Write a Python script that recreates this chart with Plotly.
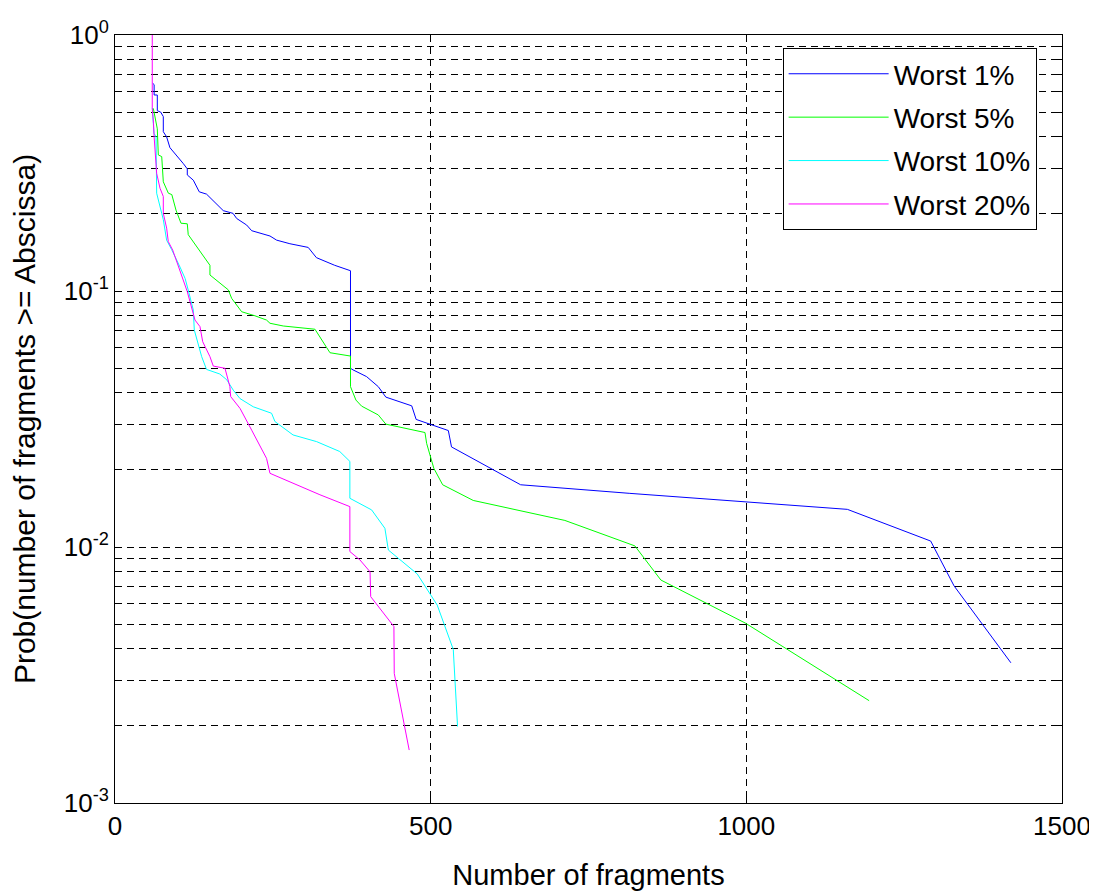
import plotly.graph_objects as go

# ---- data ----
w1_x = [59.7, 62, 62, 67, 67, 72.3, 76.5, 76.5, 81.8, 87, 108, 114.5, 114.5, 124, 133.5, 145, 171.5, 187, 192.7,
        208.5, 216.5, 245.5, 256, 277, 306, 319, 348, 373, 373, 377, 398.5, 417, 429, 470, 477, 528, 533, 642.5,
        815.5, 998.7, 1160, 1292, 1329, 1419]
w1_y = [0.648, 0.64, 0.583, 0.583, 0.506, 0.50, 0.48, 0.419, 0.40, 0.363, 0.315, 0.30, 0.284, 0.271, 0.244, 0.239,
        0.206, 0.201, 0.192, 0.181, 0.172, 0.164, 0.158, 0.153, 0.148, 0.135, 0.126, 0.120, 0.0499, 0.0492, 0.0463,
        0.0423, 0.0385, 0.0356, 0.0315, 0.0285, 0.0246, 0.0175, 0.0162, 0.01503, 0.01403, 0.01055, 0.00705, 0.00353]

w5_x = [60.7, 66, 67, 68.6, 74, 76.5, 84.5, 90, 96.6, 104.5, 114.5, 116, 129.4, 150.4, 150.4, 174, 179.5, 184.8,
        200.6, 221.7, 240, 245.5, 266.5, 316.7, 332.5, 340.5, 373, 373, 381.6, 390.6, 417, 429, 491, 493.6, 505, 519,
        567.4, 712.6, 823.4, 864.6, 998.7, 1194.5]
w5_y = [0.517, 0.452, 0.43, 0.340, 0.335, 0.267, 0.241, 0.238, 0.207, 0.184, 0.183, 0.166, 0.149, 0.126, 0.1155,
        0.104, 0.101, 0.0936, 0.083, 0.080, 0.077, 0.0748, 0.073, 0.0709, 0.0615, 0.0574, 0.0557, 0.0423, 0.0375,
        0.0355, 0.0328, 0.0302, 0.0280, 0.0254, 0.0203, 0.0175, 0.0152, 0.0127, 0.0101, 0.00743, 0.00504, 0.00251]

w10_x = [59, 59.5, 61.8, 65, 65, 66, 74, 76.5, 81.8, 89.8, 103, 111, 116, 124, 125.6, 137.3, 145, 166, 177, 187.3,
         198, 219, 248, 253.4, 282, 319.4, 356, 372, 372, 406.5, 427.5, 433, 478.7, 510.4, 535.8, 542.6]
w10_y = [0.52, 0.487, 0.413, 0.40, 0.288, 0.241, 0.201, 0.19, 0.158, 0.145, 0.124, 0.112, 0.1009, 0.0843, 0.0704,
         0.0554, 0.0494, 0.0474, 0.045, 0.041, 0.038, 0.0353, 0.0333, 0.0309, 0.0274, 0.0258, 0.0236, 0.0216, 0.0155,
         0.01396, 0.01183, 0.00973, 0.00785, 0.00593, 0.00398, 0.00199]

w20_x = [59, 59, 61, 62, 66, 71.3, 76.5, 76.5, 81.8, 84.4, 91.4, 98.7, 105.6, 114.5, 126.7, 134.6, 138.9, 150.4,
         155.7, 174.2, 182, 183.2, 198, 206, 216.5, 240, 245.5, 324.6, 372, 372, 388, 404, 405, 441.8, 442.3, 466]
w20_y = [1.0, 0.52, 0.45, 0.40, 0.288, 0.252, 0.234, 0.201, 0.176, 0.156, 0.1445, 0.128, 0.114, 0.0994, 0.077,
         0.0726, 0.0634, 0.0554, 0.0509, 0.0499, 0.0423, 0.0387, 0.0348, 0.0318, 0.0286, 0.0222, 0.0194, 0.0160,
         0.01438, 0.0096, 0.0089, 0.0080, 0.0064, 0.00489, 0.00321, 0.00161]

series_names = ["Worst 1%", "Worst 5%", "Worst 10%", "Worst 20%"]
series_colors = ["#0000FF", "#00FF00", "#00FFFF", "#FF00FF"]
x_ticks = [0, 500, 1000, 1500]
decades = [-3, -2, -1, 0]

# ---- figure ----
FONT = "Liberation Sans, Arial, sans-serif"
FS = 26
fig = go.Figure()
for i, (xs, ys) in enumerate([(w1_x, w1_y), (w5_x, w5_y), (w10_x, w10_y), (w20_x, w20_y)]):
    fig.add_trace(go.Scatter(x=xs, y=ys, mode="lines", name=series_names[i],
                             legendgroup=f"g{i}",
                             line=dict(color=series_colors[i], width=1)))

y_tickvals, y_ticktext = [], []
for d in decades:
    for m in range(1, 10):
        if d == 0 and m > 1:
            break
        y_tickvals.append(m * 10.0 ** d)
        y_ticktext.append(f"10<sup>{d}</sup>" if m == 1 else "")

fig.update_layout(
    width=1089, height=884,
    margin=dict(l=107, r=35, t=27, b=89),
    paper_bgcolor="white", plot_bgcolor="white",
    font=dict(family=FONT, size=FS, color="black"),
    showlegend=True,
    legend=dict(x=0.705, y=0.983, xanchor="left", yanchor="top",
                bgcolor="white", bordercolor="black", borderwidth=1,
                font=dict(family=FONT, size=28, color="black"),
                itemwidth=100, tracegroupgap=4),
)
fig.update_xaxes(
    range=[0, 1500], tickvals=x_ticks, ticktext=[str(v) for v in x_ticks],
    showgrid=True, gridcolor="black", gridwidth=1, griddash="7px,5px",
    showline=True, linecolor="black", linewidth=1, mirror="ticks",
    ticks="inside", ticklen=7, tickcolor="black", zeroline=False,
    title=dict(text="Number of fragments", standoff=24, font=dict(size=29)),
    tickfont=dict(size=FS), automargin=False,
)
fig.update_yaxes(
    type="log", range=[-3, 0], tickvals=y_tickvals, ticktext=y_ticktext,
    showgrid=True, gridcolor="black", gridwidth=1, griddash="7px,5px",
    showline=True, linecolor="black", linewidth=1, mirror="ticks",
    ticks="inside", ticklen=5, tickcolor="black", zeroline=False,
    title=dict(text="Prob(number of fragments >= Abscissa)", standoff=20, font=dict(size=30)),
    tickfont=dict(size=FS), automargin=False,
)
fig.write_html("out.html")
